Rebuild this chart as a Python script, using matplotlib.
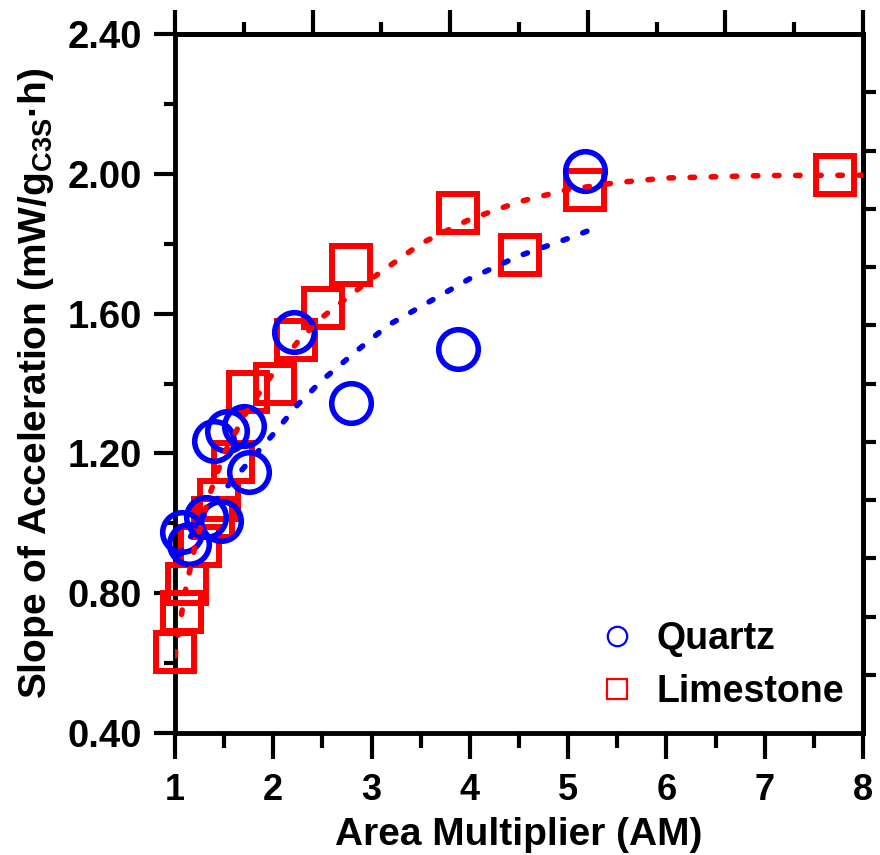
import matplotlib
matplotlib.use("Agg")
import matplotlib.pyplot as plt
from matplotlib.lines import Line2D
import numpy as np

plt.rcParams['font.family'] = ['Liberation Sans', 'DejaVu Sans']
plt.rcParams['font.weight'] = 'bold'
plt.rcParams['mathtext.default'] = 'regular'

# ---- data ----
quartz_x = [1.07, 1.14, 1.32, 1.47, 1.40, 1.53, 1.70, 1.75, 2.21, 2.79, 3.88, 5.17]
quartz_y = [0.975, 0.941, 1.018, 1.007, 1.235, 1.264, 1.278, 1.147, 1.547, 1.344, 1.499, 2.008]

limestone_x = [1.00, 1.07, 1.12, 1.25, 1.39, 1.45, 1.59, 1.74, 2.02, 2.23, 2.51, 2.79, 3.88, 4.51, 5.17, 7.72]
limestone_y = [0.632, 0.746, 0.826, 0.935, 1.015, 1.067, 1.175, 1.376, 1.40, 1.524, 1.616, 1.739, 1.888, 1.768, 1.954, 1.997]

# fitted trend curves
quartz_fit_x = [1.05, 1.15, 1.28, 1.5, 1.75, 2.0, 2.25, 2.5, 2.86, 3.17, 3.5, 4.0, 4.5, 5.0, 5.25]
quartz_fit_y = [0.91, 0.958, 1.018, 1.095, 1.175, 1.255, 1.34, 1.41, 1.496, 1.567, 1.62, 1.70, 1.765, 1.815, 1.842]

limestone_fit_x = [1.0, 1.1, 1.2, 1.35, 1.5, 1.75, 2.0, 2.25, 2.5, 3.0, 3.5, 4.0, 4.5, 5.0, 5.5, 6.0, 7.0, 8.0]
limestone_fit_y = [0.62, 0.80, 0.93, 1.08, 1.20, 1.33, 1.43, 1.52, 1.59, 1.70, 1.80, 1.87, 1.92, 1.955, 1.975, 1.988, 1.995, 1.996]

x_ticks = [1, 2, 3, 4, 5, 6, 7, 8]
y_ticks = [0.40, 0.80, 1.20, 1.60, 2.00, 2.40]
y_tick_labels = ['0.40', '0.80', '1.20', '1.60', '2.00', '2.40']

BLUE = '#0000FF'
RED = '#FF0000'

fig = plt.figure(figsize=(8.8, 8.55), dpi=100)
ax = fig.add_axes([0.19886, 0.14269, 0.78182, 0.81754])

ax.plot(limestone_x, limestone_y, 's', ms=27.5, mfc='none', mec=RED, mew=4.3,
        clip_on=False, zorder=3)
ax.plot(quartz_x, quartz_y, 'o', ms=28.5, mfc='none', mec=BLUE, mew=4.0,
        clip_on=False, zorder=4)
dash = (0, (0.8, 3.0))
ax.plot(limestone_fit_x, limestone_fit_y, color=RED, lw=4.0, ls=dash,
        dash_capstyle='round', zorder=5)
ax.plot(quartz_fit_x, quartz_fit_y, color=BLUE, lw=4.0, ls=dash,
        dash_capstyle='round', zorder=5)

ax.set_xlim(1, 8)
ax.set_ylim(0.4, 2.4)

for s in ax.spines.values():
    s.set_linewidth(3.5)

ax.set_xticks(x_ticks)
ax.set_xticks(np.arange(1.5, 8, 1.0), minor=True)
ax.set_yticks(y_ticks)
ax.set_yticklabels(y_tick_labels)
ax.set_yticks(np.arange(0.6, 2.4, 0.4), minor=True)

ax.tick_params(axis='x', which='major', direction='out', length=19, width=3,
               labelsize=26, pad=10, top=False)
ax.tick_params(axis='x', which='minor', direction='out', length=10.5, width=3, top=False)
ax.tick_params(axis='y', which='major', direction='out', length=15, width=3,
               labelsize=27.5, pad=9, right=False)
ax.tick_params(axis='y', which='minor', direction='out', length=8, width=3, right=False)
for lab in ax.get_xticklabels() + ax.get_yticklabels():
    lab.set_fontweight('bold')

# top axis with its own tick spacing
top = ax.secondary_xaxis('top')
top.set_xticks(np.linspace(1, 8, 6))
top.set_xticks(np.linspace(1.7, 7.3, 5), minor=True)
top.tick_params(which='major', direction='out', length=17, width=3, labeltop=False)
top.tick_params(which='minor', direction='out', length=9, width=3)
top.spines['top'].set_linewidth(3.5)

# right axis with its own tick spacing
right = ax.secondary_yaxis('right')
right.set_yticks(np.linspace(0.4, 2.4, 13)[1:-1])
right.tick_params(which='major', direction='out', length=9, width=3, labelright=False)
right.spines['right'].set_linewidth(3.5)

ax.set_xlabel('Area Multiplier (AM)', fontsize=28, fontweight='bold', labelpad=6)
ax.set_ylabel('Slope of Acceleration (mW/g$_{C3S}$·h)', fontsize=28,
              fontweight='bold', labelpad=8)

handles = [
    Line2D([], [], ls='none', marker='o', ms=14, mfc='none', mec=BLUE, mew=1.6),
    Line2D([], [], ls='none', marker='s', ms=14, mfc='none', mec=RED, mew=1.6),
]
leg = ax.legend(handles, ['Quartz', 'Limestone'], loc='lower left',
                bbox_to_anchor=(0.615, 0.033), frameon=False, fontsize=27,
                handlelength=1.0, handletextpad=0.55, labelspacing=0.45,
                borderpad=0, borderaxespad=0)
for t in leg.get_texts():
    t.set_fontweight('bold')

fig.savefig('out.png', dpi=100)
